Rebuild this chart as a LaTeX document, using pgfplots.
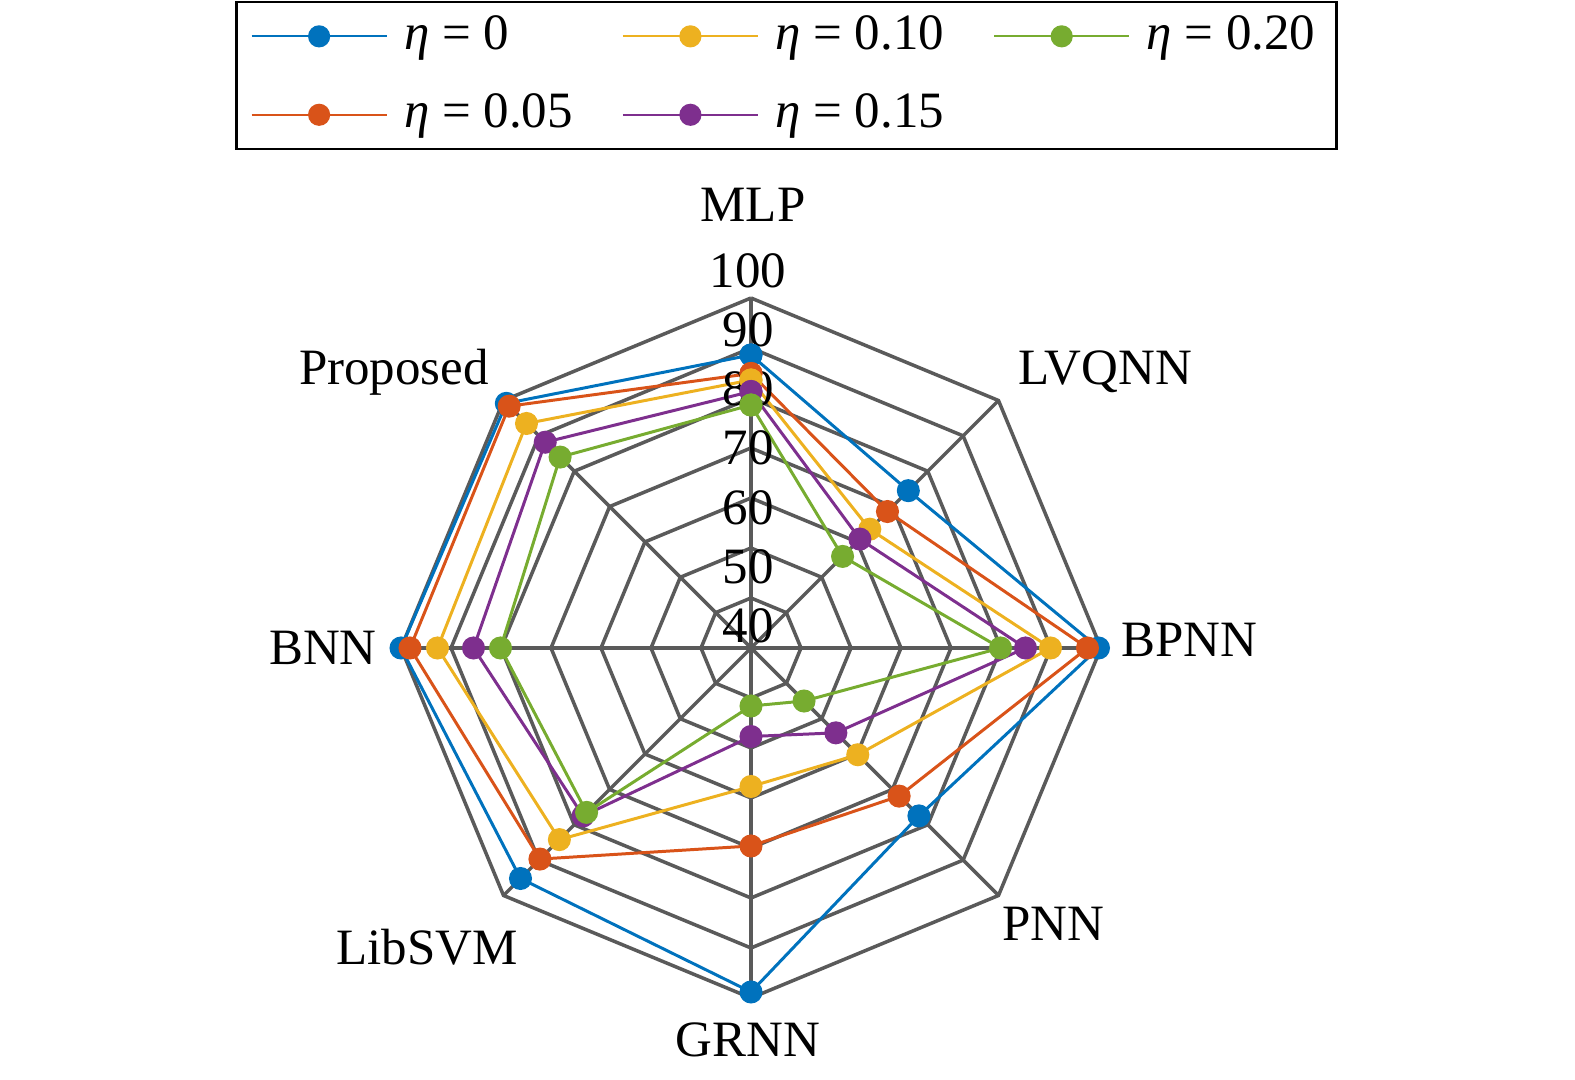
\documentclass[border=0pt]{standalone}
\usepackage{pgfplots}
\pgfplotsset{compat=1.18}
\usepackage{pgfplotstable}
\usepackage{fontspec}
\setmainfont{Liberation Serif}
\definecolor{c1}{RGB}{0,114,189}
\definecolor{c2}{RGB}{217,83,25}
\definecolor{c3}{RGB}{237,177,32}
\definecolor{c4}{RGB}{126,47,142}
\definecolor{c5}{RGB}{119,172,48}
\definecolor{gridc}{RGB}{90,90,90}
\pgfplotstableread{
a v0 v1 v2 v3 v4
90 88.6 84.9 83.6 81.3 78.6
45 74.5 68.6 63.6 60.8 55.9
0 99.5 97.3 89.9 84.9 79.9
-45 77.5 71.9 60.2 54.0 45.0
-90 98.8 69.6 57.7 47.7 41.6
-135 95.2 89.7 84.2 77.5 76.5
180 100 98.2 92.7 85.5 80.1
135 99.2 98.4 93.5 88.2 84.0
90 88.6 84.9 83.6 81.3 78.6
}\radar
\begin{document}
\fontsize{14.5}{17.4}\selectfont
\begin{tikzpicture}
\begin{axis}[
  width=15.75cm, height=10.8cm, scale only axis,
  xmin=-150.2, xmax=164.8, ymin=-86.4, ymax=129.6,
  hide axis, clip=false,
  legend columns=2, transpose legend,
  legend style={at={(axis cs:7.1,129.4)}, anchor=north, draw=black, line width=0.7pt,
    font=\fontsize{14.5}{17.4}\selectfont, fill=white,
    /tikz/every even column/.append style={column sep=0.42cm},
    row sep=6.5pt, inner xsep=4pt, inner ysep=1.8pt},
  legend cell align=left,
  legend image code/.code={\draw[mark repeat=2,mark phase=2,#1,line width=0.6pt] plot coordinates {(0cm,0cm) (0.675cm,0cm) (1.35cm,0cm)}; \path (1.44cm,0cm);},
  every axis plot/.append style={line width=0.85pt, mark=*, mark size=2.85pt, mark options={solid}},
]
\pgfplotsinvokeforeach{10,20,30,40,50,60,70}{
  \addplot[gridc, line width=1pt, mark=none, forget plot] table[x expr={#1*cos(\thisrow{a})}, y expr={#1*sin(\thisrow{a})}] {\radar};
}
\pgfplotsinvokeforeach{0,45,90,135,180,225,270,315}{
  \draw[gridc, line width=1pt] (axis cs:0,0) -- (axis cs:{70*cos(#1)},{70*sin(#1)});
}
\addplot[c1, mark options={fill=c1}] table[x expr={(\thisrow{v0}-30)*cos(\thisrow{a})}, y expr={(\thisrow{v0}-30)*sin(\thisrow{a})}] {\radar};
\addlegendentry{{\itshape η} = 0}
\addplot[c2, mark options={fill=c2}] table[x expr={(\thisrow{v1}-30)*cos(\thisrow{a})}, y expr={(\thisrow{v1}-30)*sin(\thisrow{a})}] {\radar};
\addlegendentry{{\itshape η} = 0.05}
\addplot[c3, mark options={fill=c3}] table[x expr={(\thisrow{v2}-30)*cos(\thisrow{a})}, y expr={(\thisrow{v2}-30)*sin(\thisrow{a})}] {\radar};
\addlegendentry{{\itshape η} = 0.10}
\addplot[c4, mark options={fill=c4}] table[x expr={(\thisrow{v3}-30)*cos(\thisrow{a})}, y expr={(\thisrow{v3}-30)*sin(\thisrow{a})}] {\radar};
\addlegendentry{{\itshape η} = 0.15}
\addplot[c5, mark options={fill=c5}] table[x expr={(\thisrow{v4}-30)*cos(\thisrow{a})}, y expr={(\thisrow{v4}-30)*sin(\thisrow{a})}] {\radar};
\addlegendentry{{\itshape η} = 0.20}
% radial tick labels
\node at (axis cs:-0.6,75.4) {100};
\node at (axis cs:-0.6,63.6) {90};
\node at (axis cs:-0.6,51.8) {80};
\node at (axis cs:-0.6,40.0) {70};
\node at (axis cs:-0.6,28.1) {60};
\node at (axis cs:-0.6,16.3) {50};
\node at (axis cs:-0.6,4.5) {40};
% category labels
\node[anchor=base] at (axis cs:0.4,85.2) {MLP};
\node[anchor=base] at (axis cs:70.8,52.6) {LVQNN};
\node[anchor=base] at (axis cs:87.6,-1.8) {BPNN};
\node[anchor=base] at (axis cs:60.4,-58.6) {PNN};
\node[anchor=base] at (axis cs:-0.6,-81.8) {GRNN};
\node[anchor=base] at (axis cs:-64.8,-63.4) {LibSVM};
\node[anchor=base] at (axis cs:-85.6,-3.4) {BNN};
\node[anchor=base] at (axis cs:-71.4,52.6) {Proposed};
\coordinate (bl) at (rel axis cs:0,0);
\coordinate (tr) at (rel axis cs:1,1);
\end{axis}
\pgfresetboundingbox
\path (bl) rectangle (tr);
\end{tikzpicture}
\end{document}
